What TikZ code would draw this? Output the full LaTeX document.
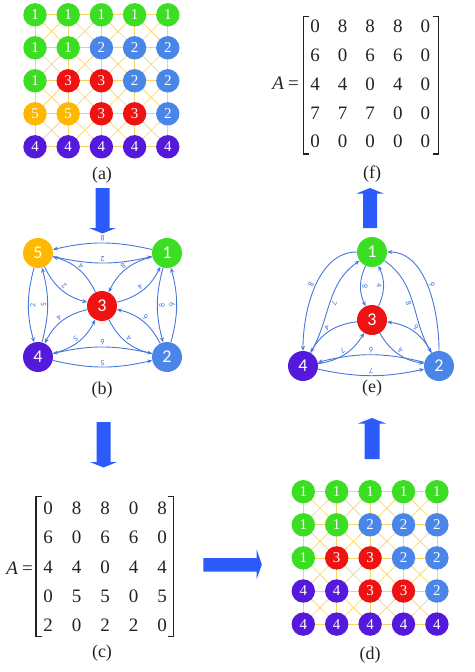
\documentclass[tikz,border=0pt]{standalone}
\usepackage{fontspec}
\setmainfont{Liberation Serif}
\newfontfamily\carl{Carlito}
\usepackage{graphicx}
\usetikzlibrary{arrows.meta,backgrounds}
\definecolor{cg}{RGB}{60,222,35}
\definecolor{cb}{RGB}{74,134,232}
\definecolor{cr}{RGB}{238,18,18}
\definecolor{co}{RGB}{255,183,0}
\definecolor{cp}{RGB}{85,25,220}
\definecolor{edgeblue}{RGB}{70,120,220}
\definecolor{arrowblue}{RGB}{45,90,250}
\definecolor{gridline}{RGB}{248,212,100}
\definecolor{ink}{RGB}{35,35,35}
\newcommand\ud[1]{\rotatebox[origin=c]{180}{#1}}
\begin{document}
\begin{tikzpicture}[x=1pt,y=1pt,
 gnode/.style={circle,minimum size=23.4pt,inner sep=0pt,text=white,font=\fontsize{15}{15}\selectfont},
 bnode/.style={circle,minimum size=30pt,inner sep=0pt,text=white,font=\carl\fontsize{18}{18}\selectfont},
 gline/.style={draw=gridline,line width=0.65pt},
 wedge/.style={draw=edgeblue,line width=0.9pt,-{Stealth[length=5pt,width=4pt]}},
 elab/.style={auto=left,sloped,inner sep=1.2pt,font=\carl\fontsize{8}{8}\selectfont,text=edgeblue},
 capt/.style={font=\fontsize{18}{18}\selectfont,text=ink},
 mat/.style={font=\fontsize{19}{19}\selectfont,text=ink,inner sep=0pt},
 bigarrow/.style={fill=arrowblue,draw=none},
 bracket/.style={draw=ink,line width=1.4pt}]
\useasboundingbox (0,0) rectangle (474,-672);

% ---------- grid (a)
\def\gridA{{cg/1,cg/1,cg/1,cg/1,cg/1},{cg/1,cg/1,cb/2,cb/2,cb/2},{cg/1,cr/3,cr/3,cb/2,cb/2},{co/5,co/5,cr/3,cr/3,cb/2},{cp/4,cp/4,cp/4,cp/4,cp/4}}
\foreach \row [count=\i from 0] in \gridA {
  \foreach \c/\v [count=\j from 0] in \row {
    \node[gnode,fill=\c] (a-\i-\j) at ({35+33.2*\j},{-14.8-33*\i}) {\v};
  }
}
% ---------- grid (d)
\def\gridD{{cg/1,cg/1,cg/1,cg/1,cg/1},{cg/1,cg/1,cb/2,cb/2,cb/2},{cg/1,cr/3,cr/3,cb/2,cb/2},{cp/4,cp/4,cr/3,cr/3,cb/2},{cp/4,cp/4,cp/4,cp/4,cp/4}}
\foreach \row [count=\i from 0] in \gridD {
  \foreach \c/\v [count=\j from 0] in \row {
    \node[gnode,fill=\c] (d-\i-\j) at ({303.3+33.4*\j},{-491.7-33.1*\i}) {\v};
  }
}
\begin{pgfonlayer}{background}
\foreach \p in {a,d}{
  \foreach \i in {0,...,4}{
    \foreach \j [evaluate=\j as \k using int(\j+1)] in {0,...,3}{
      \draw[gline] (\p-\i-\j.center) -- (\p-\i-\k.center);
      \draw[gline] (\p-\j-\i.center) -- (\p-\k-\i.center);
    }
  }
  \foreach \i [evaluate=\i as \ii using int(\i+1)] in {0,...,3}{
    \foreach \j [evaluate=\j as \jj using int(\j+1)] in {0,...,3}{
      \draw[gline] (\p-\i-\j.center) -- (\p-\ii-\jj.center);
      \draw[gline] (\p-\i-\jj.center) -- (\p-\ii-\j.center);
    }
  }
}
\end{pgfonlayer}

% ---------- graph (b)
\node[bnode,fill=co] (b5) at (38,-253) {5};
\node[bnode,fill=cg] (b1) at (167,-253) {1};
\node[bnode,fill=cr] (b3) at (102,-306) {3};
\node[bnode,fill=cp] (b4) at (38,-357) {4};
\node[bnode,fill=cb] (b2) at (167,-357) {2};
\draw[wedge] (b1) to[bend right=13] node[elab]{\ud{8}} (b5);
\draw[wedge] (b5) to[bend right=13] node[elab]{\ud{2}} (b1);
\draw[wedge] (b1) to[bend right=15] node[elab]{\ud{8}} (b2);
\draw[wedge] (b2) to[bend right=15] node[elab]{\ud{6}} (b1);
\draw[wedge] (b5) to[bend right=15] node[elab]{\ud{2}} (b4);
\draw[wedge] (b4) to[bend right=15] node[elab]{\ud{5}} (b5);
\draw[wedge] (b4) to[bend right=13] node[elab]{\ud{5}} (b2);
\draw[wedge] (b2) to[bend right=13] node[elab]{\ud{6}} (b4);
\draw[wedge] (b5) to[bend right=25] node[elab]{\ud{2}} (b3);
\draw[wedge] (b3) to[bend right=25] node[elab]{\ud{4}} (b5);
\draw[wedge] (b1) to[bend right=25] node[elab]{\ud{8}} (b3);
\draw[wedge] (b3) to[bend right=25] node[elab]{\ud{4}} (b1);
\draw[wedge] (b3) to[bend right=25] node[elab]{\ud{4}} (b2);
\draw[wedge] (b2) to[bend right=25] node[elab]{\ud{6}} (b3);
\draw[wedge] (b3) to[bend right=25] node[elab]{\ud{4}} (b4);
\draw[wedge] (b4) to[bend right=25] node[elab]{\ud{5}} (b3);

% ---------- graph (e)
\node[bnode,fill=cg] (e1) at (372,-252) {1};
\node[bnode,fill=cr] (e3) at (372,-320) {3};
\node[bnode,fill=cp] (e4) at (303,-366) {4};
\node[bnode,fill=cb] (e2) at (439,-366) {2};
\draw[wedge] (e1) to[out=180,in=90,looseness=0.9] node[elab]{\ud{8}} (e4);
\draw[wedge] (e4) to[out=60,in=215] node[elab,swap]{\ud{7}} (e1);
\draw[wedge] (e2) to[out=90,in=0,looseness=0.9] node[elab]{\ud{6}} (e1);
\draw[wedge] (e1) to[out=-35,in=120] node[elab,swap]{\ud{8}} (e2);
\draw[wedge] (e1) to[bend right=25] node[elab]{\ud{8}} (e3);
\draw[wedge] (e3) to[bend right=25] node[elab]{\ud{4}} (e1);
\draw[wedge] (e3) to[bend right=27] node[elab]{\ud{4}} (e4);
\draw[wedge] (e4) to[bend right=25] node[elab]{\ud{7}} (e3);
\draw[wedge] (e3) to[bend right=25] node[elab]{\ud{4}} (e2);
\draw[wedge] (e2) to[bend right=27] node[elab]{\ud{6}} (e3);
\draw[wedge] (e2) to[bend right=14] node[elab]{\ud{6}} (e4);
\draw[wedge] (e4) to[bend right=12] node[elab]{\ud{7}} (e2);

% ---------- matrix (c)
\node[mat,anchor=east] (cA) at (33,-568) {\textit{A}\hspace{4pt}=};
\def\matC{{0,8,8,0,8},{6,0,6,6,0},{4,4,0,4,4},{0,5,5,0,5},{2,0,2,2,0}}
\foreach \row [count=\i from 0] in \matC {
  \foreach \v [count=\j from 0] in \row {
    \node[mat] (c-\i-\j) at ({48+28.5*\j},{-508-29.4*\i}) {\v};
  }
}
\draw[bracket] (41.5,-496.7) -- (36,-496.7) -- (36,-636.7) -- (41.5,-636.7);
\draw[bracket] (167.8,-496.7) -- (173.3,-496.7) -- (173.3,-636.7) -- (167.8,-636.7);

% ---------- matrix (f)
\node[mat,anchor=east] (fA) at (299,-83.3) {\textit{A}\hspace{4pt}=};
\def\matF{{0,8,8,8,0},{6,0,6,6,0},{4,4,0,4,0},{7,7,7,0,0},{0,0,0,0,0}}
\foreach \row [count=\i from 0] in \matF {
  \foreach \v [count=\j from 0] in \row {
    \node[mat] (f-\i-\j) at ({315+27.6*\j},{-26.7-28.75*\i}) {\v};
  }
}
\draw[bracket] (309,-16.7) -- (303.3,-16.7) -- (303.3,-154) -- (309,-154);
\draw[bracket] (432.5,-16.7) -- (438.3,-16.7) -- (438.3,-154) -- (432.5,-154);

% ---------- captions
\node[capt] (la) at (102,-175) {(a)};
\node[capt] (lb) at (102,-390) {(b)};
\node[capt] (lc) at (102,-653) {(c)};
\node[capt] (ld) at (370,-655) {(d)};
\node[capt] (le) at (372,-388) {(e)};
\node[capt] (lf) at (372,-174) {(f)};

% ---------- big arrows
\fill[bigarrow] (95.5,-188) -- (109.5,-188) -- (109.5,-228) -- (116,-228) -- (102.5,-233.5) -- (89,-228) -- (95.5,-228) -- cycle;
\fill[bigarrow] (96.5,-422) -- (110.5,-422) -- (110.5,-462) -- (117,-462) -- (103.5,-467.5) -- (90,-462) -- (96.5,-462) -- cycle;
\fill[bigarrow] (364.5,-459) -- (379.5,-459) -- (379.5,-423.5) -- (386,-423.5) -- (372,-418) -- (358,-423.5) -- (364.5,-423.5) -- cycle;
\fill[bigarrow] (363,-228) -- (377,-228) -- (377,-193.5) -- (383.5,-193.5) -- (370,-188) -- (356.5,-193.5) -- (363,-193.5) -- cycle;
\fill[bigarrow] (203.3,-558) -- (256.7,-558) -- (256.7,-549.5) -- (261.8,-564.5) -- (256.7,-579) -- (256.7,-571.5) -- (203.3,-571.5) -- cycle;
\end{tikzpicture}
\end{document}
